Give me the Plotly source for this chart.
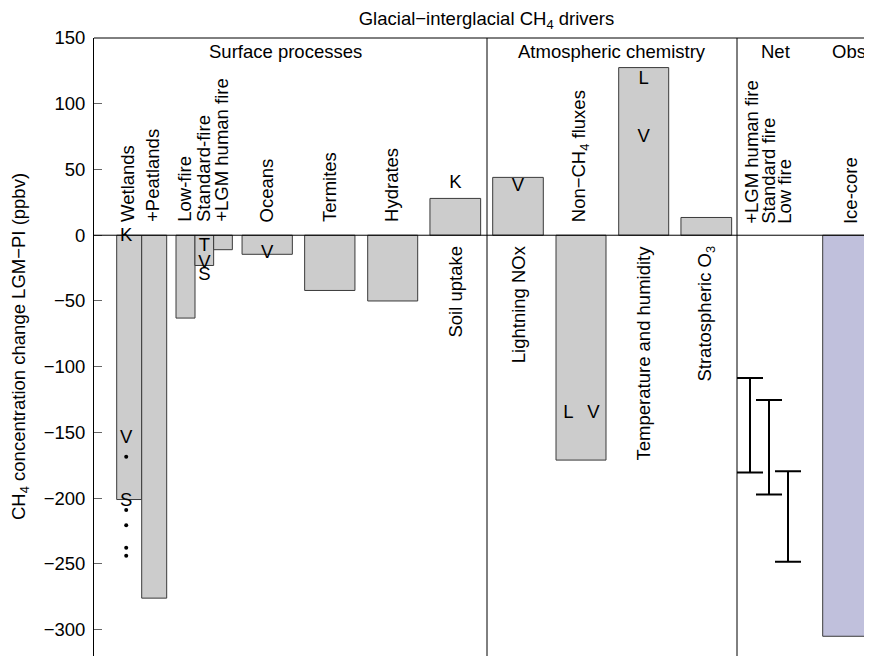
import plotly.graph_objects as go

# ---------------- data ----------------
driver_names = ["Wetlands", "+Peatlands", "Low-fire", "Standard-fire", "+LGM human fire",
                "Oceans", "Termites", "Hydrates", "Soil uptake",
                "Lightning NOx", "Non\u2212CH<sub>4</sub> fluxes",
                "Temperature and humidity", "Stratospheric O<sub>3</sub>"]
driver_values = [-201, -276, -63, -23, -11, -14.5, -42, -50, 28, 44, -171, 127.5, 13.5]

obs_names = ["Ice-core"]
obs_values = [-305]

net_names = ["+LGM human fire", "Standard fire", "Low fire"]
net_high = [-108.5, -125.3, -179.4]
net_low = [-180.4, -197.1, -248.4]

# individual model estimates (letter = model)
model_driver = ["Wetlands", "Wetlands", "Wetlands", "Standard-fire", "Standard-fire", "Standard-fire",
                "Oceans", "Soil uptake", "Lightning NOx",
                "Non\u2212CH<sub>4</sub> fluxes", "Non\u2212CH<sub>4</sub> fluxes",
                "Temperature and humidity", "Temperature and humidity"]
model_letter = ["K", "V", "S", "T", "V", "S", "V", "K", "V", "L", "V", "L", "V"]
model_value = [-1, -154.6, -202.7, -8.7, -21.3, -30.2, -13.7, 39.6, 37, -135.5, -135.5, 118.2, 74.6]

# extra ensemble members (dots) for wetlands
dot_driver = ["Wetlands"] * 5
dot_value = [-168.5, -209, -220.5, -237.7, -243.8]

group_names = ["Surface processes", "Atmospheric chemistry", "Net", "Obs."]

title_text = "Glacial\u2212interglacial CH<sub>4</sub> drivers"
ylabel_text = "CH<sub>4</sub> concentration change LGM\u2212PI (ppbv)"
y_ticks = [150, 100, 50, 0, -50, -100, -150, -200, -250, -300]

# ---------------- layout positions (horizontal slots) ----------------
driver_pos = [129.2, 154.2, 185.5, 204.3, 223.0, 267.2, 329.8, 392.7, 455.3,
              518.0, 581.0, 643.7, 706.3]
driver_width = [25, 25, 19, 18.7, 18.7, 50.3, 50.3, 50, 50.7, 50.6, 50, 50, 50.7]
obs_pos = [851.3]
obs_width = [57.2]
net_pos = [750, 769, 788]
net_label_pos = [752, 768.5, 785]
group_pos = [285, 611.7, 775, 851.7]
separators = [487, 737]
model_xoff = {("Wetlands"): -3, ("Non\u2212CH<sub>4</sub> fluxes", "L"): -12.7,
              ("Non\u2212CH<sub>4</sub> fluxes", "V"): 12.3}

FONT = "Liberation Sans, Arial, Helvetica, sans-serif"
FS = 18.5
GRAY = "#cccccc"
EDGE = "#3a3a3a"
OBS = "#c0c0dc"

OFF = 8            # page body margin offset
W, H = 872 - OFF, 656 - OFF
ML, MT = 94 - OFF, 38 - OFF
X0, X1 = 94, 872
Y0, Y1 = -320, 150
PH = H - MT        # plot height
PW = W - ML        # plot width

pos_of = dict(zip(driver_names, driver_pos))

fig = go.Figure()

fig.add_trace(go.Bar(x=driver_pos, y=driver_values, width=driver_width,
                     marker=dict(color=GRAY, line=dict(color=EDGE, width=1)),
                     showlegend=False, hoverinfo="skip"))
fig.add_trace(go.Bar(x=obs_pos, y=obs_values, width=obs_width,
                     marker=dict(color=OBS, line=dict(color=EDGE, width=1)),
                     showlegend=False, hoverinfo="skip"))

# net ranges
mid = [(a + b) / 2 for a, b in zip(net_high, net_low)]
half = [(a - b) / 2 for a, b in zip(net_high, net_low)]
fig.add_trace(go.Scatter(x=net_pos, y=mid, mode="markers",
                         marker=dict(size=1, color="rgba(0,0,0,0)"),
                         error_y=dict(type="data", symmetric=True, array=half,
                                      color="black", thickness=2, width=13),
                         showlegend=False, hoverinfo="skip"))

# model letters
mx = []
for d, l in zip(model_driver, model_letter):
    off = model_xoff.get((d, l), model_xoff.get(d, 0))
    mx.append(pos_of[d] + off)
fig.add_trace(go.Scatter(x=mx, y=model_value, mode="text", text=model_letter,
                         textposition="middle center",
                         textfont=dict(family=FONT, size=FS, color="black"),
                         showlegend=False, hoverinfo="skip"))
fig.add_trace(go.Scatter(x=[pos_of[d] + model_xoff.get(d, 0) for d in dot_driver], y=dot_value,
                         mode="markers", marker=dict(size=4, color="black"),
                         showlegend=False, hoverinfo="skip"))

ann = []
# driver labels
for name, x, v in zip(driver_names, driver_pos, driver_values):
    if v < 0:
        ann.append(dict(x=x - 1, y=0, text=name, textangle=-90, showarrow=False,
                        xanchor="center", yanchor="bottom", yshift=11,
                        font=dict(family=FONT, size=FS, color="black")))
    else:
        ann.append(dict(x=x, y=0, text=name, textangle=-90, showarrow=False,
                        xanchor="center", yanchor="top", yshift=-8,
                        font=dict(family=FONT, size=FS, color="black")))
for name, x in zip(net_names, net_label_pos):
    ann.append(dict(x=x, y=0, text=name, textangle=-90, showarrow=False,
                    xanchor="center", yanchor="bottom", yshift=9,
                    font=dict(family=FONT, size=FS, color="black")))
for name, x in zip(obs_names, obs_pos):
    ann.append(dict(x=x - 1, y=0, text=name, textangle=-90, showarrow=False,
                    xanchor="center", yanchor="bottom", yshift=9,
                    font=dict(family=FONT, size=FS, color="black")))
# group headers
for name, x in zip(group_names, group_pos):
    ann.append(dict(x=x, xref="x", y=1 - (52 - 38) / PH, yref="paper", text=name,
                    showarrow=False, xanchor="center", yanchor="middle",
                    font=dict(family=FONT, size=FS, color="black")))
# y label
ann.append(dict(x=-(94 - 20) / PW, xref="paper", y=0.5, yref="paper",
                text=ylabel_text, textangle=-90, showarrow=False,
                xanchor="center", yanchor="middle",
                font=dict(family=FONT, size=FS, color="black")))

shapes = [
    dict(type="line", xref="paper", yref="y", x0=0, x1=1, y0=0, y1=0,
         line=dict(color="black", width=1)),
    dict(type="line", xref="paper", yref="paper", x0=0, x1=1, y0=1, y1=1,
         line=dict(color="black", width=1)),
]
for s in separators:
    shapes.append(dict(type="line", xref="x", yref="paper", x0=s, x1=s, y0=0, y1=1,
                       line=dict(color="black", width=1)))

fig.update_layout(
    width=W, height=H,
    margin=dict(l=ML, r=0, t=MT, b=0, pad=0),
    paper_bgcolor="white", plot_bgcolor="white",
    barmode="overlay",
    font=dict(family=FONT, size=FS, color="black"),
    title=dict(text=title_text, x=(486.5 - OFF) / W, xanchor="center",
               y=1 - (19 - OFF) / H, yanchor="middle",
               font=dict(family=FONT, size=FS, color="black")),
    xaxis=dict(range=[X0, X1], visible=False),
    yaxis=dict(range=[Y0, Y1], tickvals=y_ticks, ticks="inside", ticklen=8,
               tickcolor="#666666", tickwidth=1, showgrid=False, zeroline=False,
               showline=True, linecolor="black", linewidth=1,
               tickfont=dict(family=FONT, size=FS, color="black"),
               ticklabelstandoff=4, automargin=False),
    annotations=ann, shapes=shapes,
)

fig.write_html("out.html")
